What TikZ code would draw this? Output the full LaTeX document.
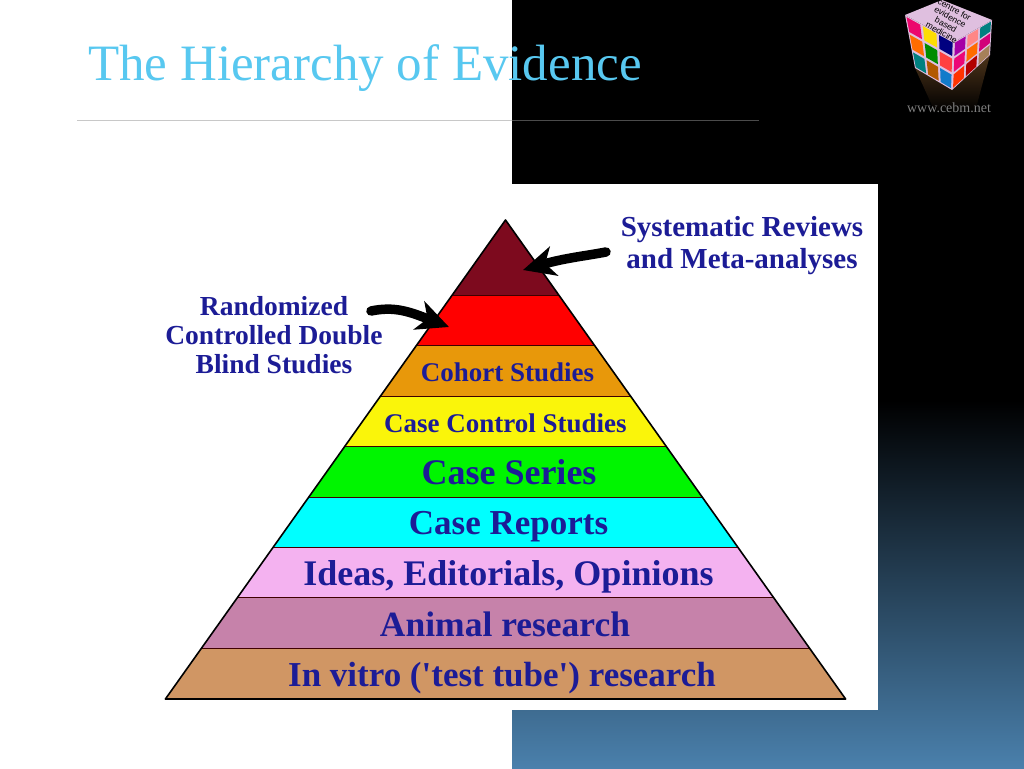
\documentclass[tikz,border=0pt]{standalone}
\usepackage{fontspec}
\setmainfont{Liberation Serif}
\newfontfamily\logofont{Liberation Sans}
\usetikzlibrary{arrows.meta,calc}

\definecolor{titleblue}{RGB}{88,200,240}
\definecolor{labelblue}{RGB}{28,28,150}
\definecolor{seablue}{RGB}{74,128,172}
\definecolor{ruleline}{RGB}{200,200,200}
\definecolor{ruledark}{RGB}{75,75,75}
\definecolor{bandone}{RGB}{125,10,30}
\definecolor{bandtwo}{RGB}{255,0,0}
\definecolor{bandthree}{RGB}{232,152,10}
\definecolor{bandfour}{RGB}{250,245,10}
\definecolor{bandfive}{RGB}{0,245,0}
\definecolor{bandsix}{RGB}{0,255,255}
\definecolor{bandseven}{RGB}{244,178,240}
\definecolor{bandeight}{RGB}{198,130,170}
\definecolor{bandnine}{RGB}{208,150,100}

\newcommand{\cubept}[6]{($($(#1)!#5!(#2)$)!#6!($(#4)!#5!(#3)$)$)}

\tikzset{
  bandlabel/.style={text=labelblue, font=\bfseries\fontsize{#1}{#1}\selectfont, anchor=base, inner sep=0pt},
  fatarrow/.style={line width=9.5pt, line cap=round, -{Stealth[length=32pt,width=30pt,inset=9pt]}, black},
}

\begin{document}
\begin{tikzpicture}[x=1pt,y=-1pt]

\def \apexx {505.5}
\def \apexy {220}
\def \slope {0.71}

\useasboundingbox (0,0) rectangle (1024,768);

% background
\fill[white] (0,0) rectangle (512,768);
\fill[black] (512,0) rectangle (1024,400);
\fill[bottom color=seablue, top color=black] (512,400) rectangle (1024,768);
\fill[white] (130,184) rectangle (878,710);

% title
\node[text=titleblue, font=\fontsize{51}{51}\selectfont, anchor=base west, inner sep=0pt] (title) at (88,80) {The Hierarchy of Evidence};
\coordinate (ruleleft) at (77,120);
\coordinate (rulemid) at (512,120);
\coordinate (ruleright) at (759,120);
\draw[ruleline, line width=0.7pt] (ruleleft) -- (rulemid);
\draw[ruledark, line width=0.7pt] (rulemid) -- (ruleright);

% pyramid bands
\foreach \ytop/\ybot/\col in {220/296/bandone,296/346/bandtwo,346/397/bandthree,397/447/bandfour,447/498/bandfive,498/548/bandsix,548/598/bandseven,598/649/bandeight,649/699/bandnine}
{
  \fill[\col] ({\apexx-\slope*(\ytop-\apexy)},\ytop) -- ({\apexx+\slope*(\ytop-\apexy)},\ytop)
    -- ({\apexx+\slope*(\ybot-\apexy)},\ybot) -- ({\apexx-\slope*(\ybot-\apexy)},\ybot) -- cycle;
  \draw[black!75!red, line width=1.2pt] ({\apexx-\slope*(\ybot-\apexy)},\ybot) -- ({\apexx+\slope*(\ybot-\apexy)},\ybot);
}
\draw[black, line width=1.6pt, line join=round] (\apexx,\apexy) -- ({\apexx+\slope*479},699) -- ({\apexx-\slope*479},699) -- cycle;

% band labels
\node[bandlabel=27] (cohort) at (507.5,381) {Cohort Studies};
\node[bandlabel=27] (casecontrol) at (505.5,432) {Case Control Studies};
\node[bandlabel=36] (caseseries) at (509,484) {Case Series};
\node[bandlabel=35] (casereports) at (508.5,534) {Case Reports};
\node[bandlabel=36] (ideas) at (508.5,585) {Ideas, Editorials, Opinions};
\node[bandlabel=35.5] (animal) at (505,636) {Animal research};
\node[bandlabel=35] (invitro) at (502,686) {In vitro (\textquotesingle test tube\textquotesingle) research};

% side labels and their arrows
\node[bandlabel=29, align=center, font=\bfseries\fontsize{29}{32}\selectfont] (reviews) at (742,268) {Systematic Reviews\\and Meta-analyses};
\node[bandlabel=27.5, align=center, font=\bfseries\fontsize{27.5}{29}\selectfont] (randomized) at (274,373) {Randomized\\Controlled Double\\Blind Studies};
\coordinate (reviewstart) at (606,252);
\coordinate (reviewend) at (523,270);
\coordinate (randomstart) at (371,311);
\coordinate (randomend) at (449,327);
\draw[fatarrow] (reviewstart) .. controls (585,256) and (565,258) .. (reviewend);
\draw[fatarrow] (randomstart) .. controls (395,306) and (410,312) .. (randomend);

% logo
\coordinate (cubeleft) at (905,15);
\coordinate (cubeback) at (942,0);
\coordinate (cuberight) at (992,20);
\coordinate (cubefront) at (954,42);
\coordinate (cubelow) at (915,68);
\coordinate (cubebase) at (952,90);
\coordinate (cubeside) at (990,55);
\fill[top color=black!60!brown, bottom color=black] (cubelow) -- (cubebase) -- (cubeside) -- (975,112) -- (935,112) -- cycle;
\fill[violet!25!white] (cubeleft) -- (cubeback) -- (cuberight) -- (cubefront) -- cycle;
\fill[violet!25!white] (cubeleft) -- (cubefront) -- (cuberight) -- (cubeside) -- (cubebase) -- (cubelow) -- cycle;
\foreach \i/\j/\col in {0/0/magenta!70!red,1/0/yellow!80!orange,2/0/blue!50!black,0/1/orange!85!red,1/1/green!55!black,2/1/red!75,0/2/teal,1/2/orange!70!black,2/2/cyan!60!blue}
{
  \fill[\col] \cubept{cubeleft}{cubefront}{cubebase}{cubelow}{{(\i+0.08)/3}}{{(\j+0.08)/3}}
    -- \cubept{cubeleft}{cubefront}{cubebase}{cubelow}{{(\i+0.92)/3}}{{(\j+0.08)/3}}
    -- \cubept{cubeleft}{cubefront}{cubebase}{cubelow}{{(\i+0.92)/3}}{{(\j+0.92)/3}}
    -- \cubept{cubeleft}{cubefront}{cubebase}{cubelow}{{(\i+0.08)/3}}{{(\j+0.92)/3}} -- cycle;
}
\foreach \i/\j/\col in {0/0/violet!70!magenta,1/0/pink!70!red,2/0/teal,0/1/magenta!80!red,1/1/orange!85!red,2/1/purple!70!magenta,0/2/red!60!orange,1/2/red!70!black,2/2/orange!30!gray}
{
  \fill[\col] \cubept{cubefront}{cuberight}{cubeside}{cubebase}{{(\i+0.08)/3}}{{(\j+0.08)/3}}
    -- \cubept{cubefront}{cuberight}{cubeside}{cubebase}{{(\i+0.92)/3}}{{(\j+0.08)/3}}
    -- \cubept{cubefront}{cuberight}{cubeside}{cubebase}{{(\i+0.92)/3}}{{(\j+0.92)/3}}
    -- \cubept{cubefront}{cuberight}{cubeside}{cubebase}{{(\i+0.08)/3}}{{(\j+0.92)/3}} -- cycle;
}
\node[rotate=-29, text=black, font=\logofont\fontsize{8.6}{8.8}\selectfont, align=center, inner sep=0pt] (logotext) at (948,21) {centre for\\evidence\\based\\medicine};
\node[text=black!50!white, font=\fontsize{14}{14}\selectfont, inner sep=0pt] (website) at (949,108) {www.cebm.net};

\end{tikzpicture}
\end{document}
